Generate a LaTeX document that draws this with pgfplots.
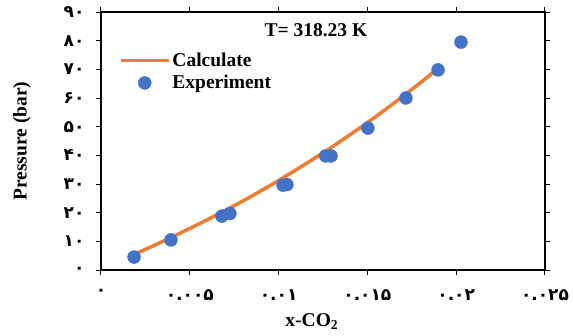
\documentclass[border=0pt]{standalone}
\usepackage{fontspec}
\setmainfont{Liberation Serif}
\newfontfamily\fa[Script=Arabic]{DejaVu Sans}
\usepackage{pgfplots}
\pgfplotsset{compat=1.18}
\definecolor{cOr}{HTML}{ED7D31}
\definecolor{cBl}{HTML}{4472C4}
\pgfplotsset{
  linelegend/.style={legend image code/.code={\draw[##1] (0pt,0pt) -- (48pt,0pt);}},
  marklegend/.style={legend image code/.code={\draw[mark repeat=2, mark phase=2, ##1] plot coordinates {(0pt,0pt) (24pt,0pt) (48pt,0pt)};}},
}
\begin{document}
\begin{tikzpicture}
\begin{axis}[
  name=ax,
  scale only axis,
  width=444pt, height=258pt,
  xmin=0, xmax=0.025, ymin=0, ymax=90,
  axis line style={line width=1.5pt},
  tick style={black, line width=1pt},
  tick align=outside,
  major tick length=5pt,
  xtick={0,0.005,0.01,0.015,0.02,0.025},
  xticklabels={۰,۰.۰۰۵,۰.۰۱,۰.۰۱۵,۰.۰۲,۰.۰۲۵},
  ytick={0,10,20,30,40,50,60,70,80,90},
  yticklabels={۰,۱۰,۲۰,۳۰,۴۰,۵۰,۶۰,۷۰,۸۰,۹۰},
  xticklabel style={font=\fa\bfseries\fontsize{17}{19}\selectfont, yshift=-11pt},
  yticklabel style={font=\fa\bfseries\fontsize{17}{19}\selectfont, xshift=-8pt},
  scaled x ticks=false,
  xlabel={x-CO\textsubscript{2}},
  ylabel={Pressure (bar)},
  xlabel style={at={(axis description cs:0.475,-0.2)}, anchor=center},
  ylabel style={at={(axis description cs:-0.178,0.5)}, anchor=center},
  label style={font=\bfseries\fontsize{19.5}{22}\selectfont},
  legend cell align=left,
  legend style={at={(axis description cs:0.04,0.85)}, anchor=north west, draw=none, fill=none,
    font=\bfseries\fontsize{19.5}{22}\selectfont, inner sep=0pt, row sep=3.5pt},
]
\addplot[cOr, line width=3.5pt, smooth, linelegend] coordinates {
  (0.0020,5.8) (0.0030,8.6) (0.0040,11.5) (0.0050,14.5) (0.0060,17.6) (0.0070,20.8)
  (0.0080,24.1) (0.0090,27.6) (0.0100,31.2) (0.0110,35.0) (0.0120,38.9) (0.0130,42.9)
  (0.0140,47.1) (0.0150,51.4) (0.0160,55.9) (0.0170,60.6) (0.0180,65.4) (0.0189,70.0)};
\addlegendentry{Calculate}
\addplot[only marks, mark=*, mark size=6.5pt, cBl, mark options={fill=cBl, draw=cBl}, marklegend] coordinates {
  (0.00186,4.5) (0.00394,10.5) (0.00681,18.8) (0.00726,19.7) (0.01025,29.6) (0.01047,29.8)
  (0.01265,39.8) (0.01295,39.8) (0.01503,49.5) (0.01717,60.0) (0.01898,69.8) (0.02027,79.5)};
\addlegendentry{Experiment}
\node[font=\bfseries\fontsize{19.5}{22}\selectfont] at (rel axis cs:0.484,0.93) {T= 318.23 K};
\end{axis}
\path (ax.south west) ++(-101pt,-65pt) rectangle ++(573pt,335pt);
\end{tikzpicture}
\end{document}
